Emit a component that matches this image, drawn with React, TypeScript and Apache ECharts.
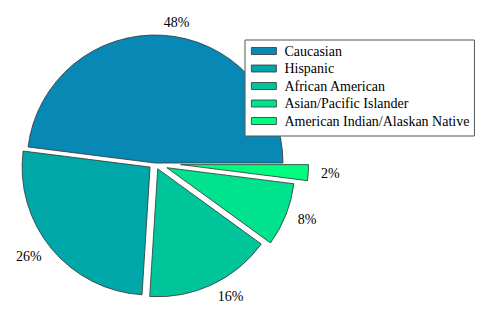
import React, { useEffect, useRef } from "react";
import * as echarts from "echarts";

const categories = [
  "Caucasian",
  "Hispanic",
  "African American",
  "Asian/Pacific Islander",
  "American Indian/Alaskan Native",
];
const shares = [48, 26, 16, 8, 2];
const explode = [0, 0.05, 0.05, 0.1, 0.2];
const colors = ["#0788b5", "#00a7a9", "#00c59b", "#00e28d", "#00fd80"];

const FONT = "'Liberation Serif', serif";

export default function App() {
  const ref = useRef<HTMLDivElement>(null);
  useEffect(() => {
    if (!ref.current) return;
    const chart = echarts.init(ref.current, undefined, { renderer: "svg" });
    const cx = 155;
    const cy = 163;
    const r = 128;
    const total = shares.reduce((a, b) => a + b, 0);
    let cum = 0;
    const series = shares.map((v, i) => {
      const start = (cum / total) * 360;
      const mid = ((cum + v / 2) / total) * 360;
      cum += v;
      const rad = (mid * Math.PI) / 180;
      const d = explode[i] * r;
      return {
        type: "pie",
        name: categories[i],
        radius: r,
        center: [cx + d * Math.cos(rad), cy - d * Math.sin(rad)],
        startAngle: start,
        clockwise: false,
        avoidLabelOverlap: false,
        silent: true,
        emphasis: { disabled: true },
        label: {
          show: true,
          position: "outside",
          formatter: "{c}%",
          fontFamily: FONT,
          fontSize: 14,
          color: "#000",
          distanceToLabelLine: 0,
        },
        labelLine: { show: false, length: 0.1 * r, length2: 0 },
        itemStyle: { borderColor: "#333", borderWidth: 0.8 },
        data: [
          { name: categories[i], value: v, itemStyle: { color: colors[i] } },
          {
            name: "",
            value: total - v,
            itemStyle: { color: "transparent", borderWidth: 0 },
            label: { show: false },
            labelLine: { show: false },
          },
        ],
      };
    });
    chart.setOption({
      animation: false,
      backgroundColor: "#fff",
      color: colors,
      legend: {
        data: categories,
        orient: "vertical",
        left: 245,
        top: 40,
        padding: [4, 5, 8, 6],
        itemWidth: 25,
        itemHeight: 7,
        itemGap: 3.5,
        icon: "rect",
        backgroundColor: "#fff",
        borderColor: "#555",
        borderWidth: 1,
        borderRadius: 0,
        selectedMode: false,
        itemStyle: { borderColor: "#333", borderWidth: 0.8 },
        textStyle: {
          fontFamily: FONT,
          fontSize: 14,
          lineHeight: 14,
          color: "#000",
          padding: [0, 0, 0, 3],
        },
      },
      series,
    });
    return () => chart.dispose();
  }, []);
  return (
    <div
      ref={ref}
      style={{ position: "fixed", left: 0, top: 0, width: 489, height: 326 }}
    />
  );
}
